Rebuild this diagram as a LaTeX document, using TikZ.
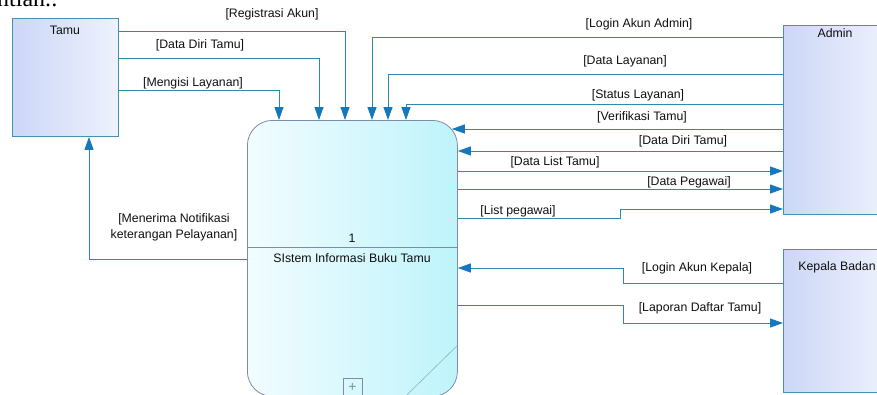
\documentclass[tikz,border=0pt]{standalone}
\usepackage{fontspec}
\setmainfont{Liberation Sans}
\newfontfamily\seriffont{Liberation Serif}
\usetikzlibrary{arrows.meta,calc}
\definecolor{flowc}{RGB}{48,136,172}
\definecolor{tipc}{RGB}{22,120,188}
\definecolor{entb}{RGB}{70,145,175}
\definecolor{entl}{RGB}{204,215,246}
\definecolor{entr}{RGB}{238,242,253}
\definecolor{procb}{RGB}{125,140,170}
\definecolor{procl}{RGB}{242,252,255}
\definecolor{procr}{RGB}{190,244,251}
\definecolor{diagc}{RGB}{140,180,205}
\definecolor{txt}{RGB}{15,15,15}
\begin{document}
\begin{tikzpicture}[x=1pt,y=-1pt,
  font=\fontsize{12.3}{14}\selectfont,
  every node/.style={text=txt},
  entity/.style={draw=entb, line width=0.9pt, left color=entl, right color=entr, inner sep=0pt, anchor=north west},
  procbox/.style={draw=procb, line width=0.8pt, rounded corners=25pt, left color=procl, right color=procr, inner sep=0pt, anchor=north west},
  flow/.style={draw=flowc, line width=1pt, -{Triangle[length=13pt,width=9pt,color=tipc,fill=tipc]}},
  lbl/.style={inner sep=0pt}
]
\clip (0,0) rectangle (877,394);
\useasboundingbox (0,0) rectangle (877,394);

% cut-off text at top
\node[anchor=base west, inner sep=0pt, font=\seriffont\fontsize{24}{24}\selectfont, text=black] (cut) at (-3,6) {ntian.:};

% entities
\node[entity, minimum width=106pt, minimum height=118pt] (tamu) at (12,18) {};
\node[lbl] (tamut) at (65,30) {Tamu};
\node[entity, minimum width=106pt, minimum height=189pt] (admin) at (783,25) {};
\node[lbl] (admint) at (835,33) {Admin};
\node[entity, minimum width=106pt, minimum height=143pt] (kep) at (783,249) {};
\node[lbl] (kept) at (837,267) {Kepala Badan};

% process
\node[procbox, minimum width=210pt, minimum height=276pt] (proc) at (247,120) {};
\draw[procb, line width=0.8pt] ([yshift=-127pt]proc.north west) -- ([yshift=-127pt]proc.north east);
\node[lbl] (pnum) at (352,238) {1};
\node[lbl] (pname) at (352,258) {SIstem Informasi Buku Tamu};
\draw[diagc, line width=0.6pt] ([yshift=-225pt]proc.north east) -- ([xshift=-52pt,yshift=-276pt]proc.north east);
\node[draw=procb, line width=0.6pt, minimum width=19pt, minimum height=18pt, inner sep=0pt, text=procb, font=\fontsize{14}{14}\selectfont] (plus) at (352.5,387) {+};

% flows from Tamu
\draw[flow] ([yshift=-13pt]tamu.north east) -| ([xshift=98pt]proc.north west);
\draw[flow] ([yshift=-40pt]tamu.north east) -| ([xshift=72pt]proc.north west);
\draw[flow] ([yshift=-72pt]tamu.north east) -| ([xshift=32pt]proc.north west);
\node[lbl] (l1) at (272,14) {[Registrasi Akun]};
\node[lbl] (l2) at (200,45) {[Data Diri Tamu]};
\node[lbl] (l3) at (193,83) {[Mengisi Layanan]};

% flows from Admin
\draw[flow] ([yshift=-12pt]admin.north west) -| ([xshift=125pt]proc.north west);
\draw[flow] ([yshift=-49pt]admin.north west) -| ([xshift=141pt]proc.north west);
\draw[flow] ([yshift=-79pt]admin.north west) -| ([xshift=159pt]proc.north west);
\draw[flow] ([yshift=-104pt]admin.north west) coordinate (v1) -- ([xshift=-6pt]proc.east |- v1);
\draw[flow] ([yshift=-126pt]admin.north west) coordinate (v2) -- (proc.east |- v2);
\node[lbl] (l4) at (639,24) {[Login Akun Admin]};
\node[lbl] (l5) at (625,61) {[Data Layanan]};
\node[lbl] (l6) at (638,95) {[Status Layanan]};
\node[lbl] (l7) at (642,117) {[Verifikasi Tamu]};
\node[lbl] (l8) at (683,141) {[Data Diri Tamu]};

% flows to Admin
\draw[flow] ([yshift=-51pt]proc.north east) coordinate (v3) -- (admin.west |- v3);
\draw[flow] ([yshift=-69pt]proc.north east) coordinate (v4) -- (admin.west |- v4);
\draw[flow] ([yshift=-98pt]proc.north east) -- ++(163,0) -- ++(0,-9) coordinate (v5) -- (admin.west |- v5);
\node[lbl] (l9) at (555,162) {[Data List Tamu]};
\node[lbl] (l10) at (689,182) {[Data Pegawai]};
\node[lbl] (l11) at (518,211) {[List pegawai]};

% Kepala Badan
\draw[flow] ([yshift=-34pt]kep.north west) -- ++(-160,0) -- ++(0,-15) coordinate (v6) -- (proc.east |- v6);
\draw[flow] ([yshift=-185pt]proc.north east) -- ++(166,0) -- ++(0,18) coordinate (v7) -- (kep.west |- v7);
\node[lbl] (l12) at (697,268) {[Login Akun Kepala]};
\node[lbl] (l13) at (700,308) {[Laporan Daftar Tamu]};

% notification to Tamu
\draw[flow] ([yshift=-139pt]proc.north west) -- ++(-158,0) coordinate (v8) -- (tamu.south west -| v8);
\node[lbl, align=center, font=\fontsize{12.3}{16}\selectfont] (l14) at (174,227) {[Menerima Notifikasi\\keterangan Pelayanan]};
\end{tikzpicture}
\end{document}
